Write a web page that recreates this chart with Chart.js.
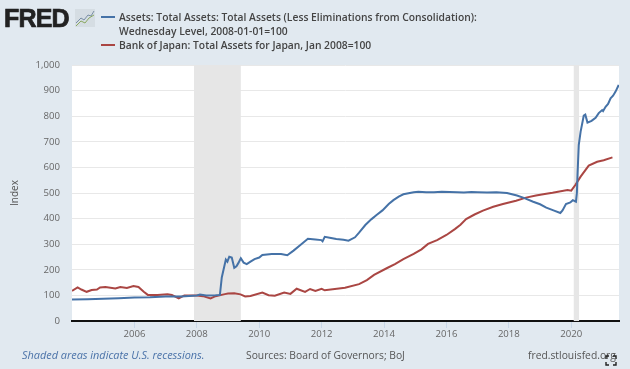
<!DOCTYPE html>
<html>
<head>
<meta charset="utf-8">
<script src="https://cdn.jsdelivr.net/npm/chart.js@4"></script>
<style>
html,body{margin:0;padding:0;background:#e1e9f0;overflow:hidden}
#wrap{position:relative;width:630px;height:369px;background:#e1e9f0;font-family:"Open Sans",sans-serif}
canvas{position:absolute;left:0;top:0}
.t{position:absolute;white-space:nowrap}
#logo{left:4px;top:1px;font:900 25px/34px "Liberation Sans",Arial,sans-serif;color:#222;letter-spacing:-0.8px;-webkit-text-stroke:0.7px #222}
.lg{left:119px;font-size:10.3px;line-height:14px;font-weight:600;color:#444}
.sw{position:absolute;left:101px;width:14px;height:2px}
.ft{top:347px;font-size:10.3px;line-height:16px;color:#555}
</style>
</head>
<body>
<div id="wrap">
<canvas id="c" width="630" height="369"></canvas>
<div class="t" id="logo">FRED</div>
<svg style="position:absolute;left:75px;top:9px" width="20" height="18" viewBox="0 0 20 18">
<rect x="0" y="0" width="20" height="18" fill="#d5dde3"/>
<polyline points="1,14 6,9 9,11 13,6 16,7 19,2" fill="none" stroke="#7a8fa6" stroke-width="1"/>
<polyline points="1,17 6,12 10,14 14,9 19,6" fill="none" stroke="#8aa860" stroke-width="1"/>
</svg>
<div class="sw" style="top:16px;background:#4572a7"></div>
<div class="sw" style="top:44px;background:#aa4643"></div>
<div class="t lg" style="top:10px">Assets: Total Assets: Total Assets (Less Eliminations from Consolidation):</div>
<div class="t lg" style="top:24px">Wednesday Level, 2008-01-01=100</div>
<div class="t lg" style="top:38px">Bank of Japan: Total Assets for Japan, Jan 2008=100</div>
<div class="t ft" style="left:22px;color:#4a72a8;font-style:italic;font-size:10.9px">Shaded areas indicate U.S. recessions.</div>
<div class="t ft" style="left:246px">Sources: Board of Governors; BoJ</div>
<div class="t ft" style="left:528px">fred.stlouisfed.org</div>
<svg style="position:absolute;left:605px;top:355px" width="12" height="11" viewBox="0 0 12 11">
<path d="M1 4V1H4M8 1H11V4M11 7V10H8M4 10H1V7" fill="none" stroke="#222" stroke-width="1.4"/>
</svg>
</div>
<script>
const xTickYears = [2006, 2008, 2010, 2012, 2014, 2016, 2018, 2020];
const recessionStarts = [2007.91, 2020.08];
const recessionEnds = [2009.41, 2020.25];

const assetYears = [2004.0,2004.5,2005.0,2005.5,2006.0,2006.5,2007.0,2007.5,2008.0,2008.1,2008.3,2008.6,2008.74,
  2008.8,2008.93,2008.98,2009.04,2009.12,2009.2,2009.27,2009.33,2009.41,2009.5,2009.6,2009.72,2009.85,2010.0,2010.1,
  2010.4,2010.7,2010.9,2011.1,2011.3,2011.56,2011.8,2011.99,2012.03,2012.1,2012.3,2012.47,2012.7,2012.86,2013.07,
  2013.2,2013.4,2013.6,2013.76,2013.95,2014.15,2014.3,2014.47,2014.62,2014.95,2015.1,2015.35,2015.6,2015.85,2016.1,2016.35,2016.56,2016.8,2017.0,2017.3,2017.6,2017.94,
  2018.26,2018.5,2018.78,2019.0,2019.2,2019.45,2019.65,2019.72,2019.83,2019.97,2020.05,2020.15,2020.18,2020.2,2020.24,2020.3,2020.4,2020.45,
  2020.52,2020.65,2020.78,2020.88,2020.99,2021.02,2021.1,2021.18,2021.26,2021.34,2021.42,2021.52];
const assetValues = [84,85,87,89,92,93,96,96,100,103,100,101,102,
  170,240,232,251,248,208,214,226,245,228,222,232,242,248,258,
  262,262,257,275,295,321,318,316,311,329,324,320,317,314,327,
  345,375,398,414,432,457,472,486,495,503,505,503,503,505,504,503,502,504,503,502,503,500,
  490,480,466,456,443,431,422,432,457,463,472,466,500,570,687,740,802,806,
  775,782,794,812,824,820,837,848,870,880,896,922];

const bojYears = [2004.0,2004.18,2004.3,2004.47,2004.63,2004.8,2004.9,2005.07,2005.39,2005.55,2005.76,2005.97,2006.13,
  2006.3,2006.43,2006.74,2007.06,2007.2,2007.42,2007.6,2008.0,2008.2,2008.44,2008.6,2008.9,2009.0,2009.2,2009.4,2009.55,
  2009.72,2010.1,2010.3,2010.5,2010.8,2011.0,2011.2,2011.47,2011.63,2011.8,2012.0,2012.1,2012.75,2013.2,2013.45,2013.68,2014.1,
  2014.35,2014.62,2014.95,2015.2,2015.41,2015.7,2016.0,2016.27,2016.45,2016.63,2016.9,2017.17,2017.5,2017.81,2018.23,2018.55,2018.87,2019.15,2019.4,2019.88,2020.0,2020.13,2020.3,
  2020.56,2020.83,2021.04,2021.32];
const bojValues = [118,131,123,114,121,123,131,133,127,133,129,137,133,
  114,102,102,104,102,88,100,100,97,88,97,105,107,108,104,96,
  98,111,101,99,111,106,126,114,125,117,126,120,130,144,160,180,207,
  222,242,262,280,301,316,336,359,376,398,416,431,446,457,470,482,490,496,501,512,509,531,564,
  607,622,628,639];

const toPoints = (xs, ys) => xs.map((x, i) => ({x, y: ys[i]}));

const plotBack = {
  id: 'plotBack',
  beforeDraw(chart) {
    const {ctx, chartArea: a} = chart;
    ctx.save();
    ctx.fillStyle = '#ffffff';
    ctx.fillRect(a.left, a.top, a.right - a.left, a.bottom - a.top);
    ctx.restore();
  },
  beforeDatasetsDraw(chart) {
    const {ctx, chartArea: a, scales: {x}} = chart;
    ctx.save();
    ctx.fillStyle = '#e6e6e6';
    recessionStarts.forEach((s, i) => {
      const l = x.getPixelForValue(s), r = x.getPixelForValue(recessionEnds[i]);
      ctx.fillRect(l, a.top, r - l, a.bottom - a.top);
    });
    ctx.restore();
  }
};

new Chart(document.getElementById('c'), {
  type: 'line',
  data: {datasets: [
    {label: 'Assets: Total Assets: Total Assets (Less Eliminations from Consolidation): Wednesday Level, 2008-01-01=100',
     data: toPoints(assetYears, assetValues), borderColor: '#4572a7', borderWidth: 2, pointRadius: 0, tension: 0},
    {label: 'Bank of Japan: Total Assets for Japan, Jan 2008=100',
     data: toPoints(bojYears, bojValues), borderColor: '#aa4643', borderWidth: 2, pointRadius: 0, tension: 0}
  ]},
  plugins: [plotBack],
  options: {
    responsive: false,
    animation: false,
    layout: {padding: {left: 0, right: 11, top: 65, bottom: 0}},
    plugins: {legend: {display: false}, title: {display: false}, tooltip: {enabled: false}},
    scales: {
      x: {
        type: 'linear', min: 2004, max: 2021.53,
        afterBuildTicks(s) { s.ticks = xTickYears.map(v => ({value: v})); },
        afterFit(s) { s.height = 48; },
        ticks: {autoSkip: false, maxRotation: 0, padding: 1, color: '#666', font: {family: 'Open Sans', size: 9.6},
                callback: v => String(v)},
        grid: {drawOnChartArea: false, drawTicks: true, tickLength: 7, tickColor: '#c9d8e8', tickWidth: 1},
        border: {color: '#111', width: 2}
      },
      y: {
        min: 0, max: 1000,
        afterFit(s) { s.width = 72; },
        ticks: {stepSize: 100, padding: 12, color: '#666', font: {family: 'Open Sans', size: 9.6}},
        title: {display: true, text: 'Index', color: '#555', font: {family: 'Open Sans', size: 10}, padding: {top: 9, bottom: 0}},
        grid: {color: '#e8e8e8', lineWidth: 1, drawTicks: false},
        border: {display: false}
      }
    }
  }
});
</script>
</body>
</html>
